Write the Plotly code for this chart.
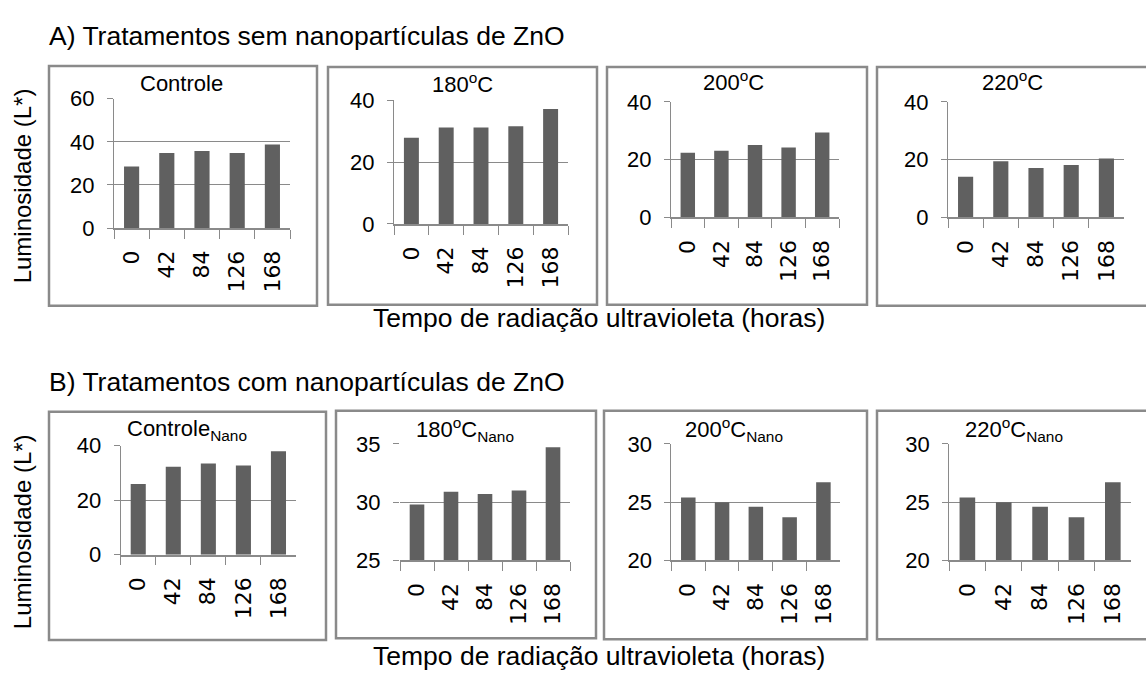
import plotly.graph_objects as go

W, H = 1146, 682

hours = ["0", "42", "84", "126", "168"]

a_controle = [28.6, 34.8, 35.7, 34.8, 38.8]
a_180 = [27.9, 31.2, 31.2, 31.6, 37.2]
a_200 = [22.4, 23.1, 25.1, 24.2, 29.4]
a_220 = [14.1, 19.5, 17.1, 18.2, 20.4]
b_controle = [25.9, 32.2, 33.4, 32.7, 37.9]
b_180 = [29.8, 30.9, 30.7, 31.0, 34.7]
b_200 = [25.4, 25.0, 24.6, 23.7, 26.7]
b_220 = [25.4, 25.0, 24.6, 23.7, 26.7]

panel_titles = ["Controle", "180<sup>o</sup>C", "200<sup>o</sup>C", "220<sup>o</sup>C",
                "Controle<sub>Nano</sub>", "180<sup>o</sup>C<sub>Nano</sub>",
                "200<sup>o</sup>C<sub>Nano</sub>", "220<sup>o</sup>C<sub>Nano</sub>"]
y_ranges = [[0, 60], [0, 40], [0, 40], [0, 40], [0, 40], [25, 35], [20, 30], [20, 30]]
y_dticks = [20, 20, 20, 20, 20, 5, 5, 5]
series = [a_controle, a_180, a_200, a_220, b_controle, b_180, b_200, b_220]

# layout geometry in pixels: plot area (x0, x1, ytop, ybottom)
plot_px = [
    (114, 290, 90, 224.3),
    (394, 568, 91.7, 220),
    (671, 839, 93.3, 213.3),
    (948, 1124, 93.3, 213.3),
    (120.7, 296, 450, 563.3),
    (400, 570, 448.3, 569.3),
    (671.4, 840.3, 448.3, 569.3),
    (949.2, 1131, 448.3, 569.3),
]
box_px = [
    (49, 317, 56, 305),
    (328, 597, 57, 304),
    (607, 867, 57, 304),
    (877, 1150, 57, 305),
    (49, 326, 415, 652),
    (336, 596, 414, 650),
    (604, 867, 414, 651),
    (877, 1150, 414, 651),
]
title_px = [(181, 74), (462, 74), (733, 72), (1012, 72),
            (187, 434), (465, 433), (734, 433), (1014, 433)]

BAR = "#606060"
GRID = "#8a8a8a"
FONT = "Liberation Sans"

fig = go.Figure()
layout = dict(
    width=W, height=H, margin=dict(l=0, r=0, t=0, b=0),
    paper_bgcolor="white", plot_bgcolor="white",
    showlegend=False, bargap=0.57,
    font=dict(family=FONT, color="black"),
)
shapes = []
annotations = []

for i, (vals, (x0, x1, yt, yb)) in enumerate(zip(series, plot_px)):
    n = i + 1
    xa = "x" if n == 1 else f"x{n}"
    ya = "y" if n == 1 else f"y{n}"
    fig.add_trace(go.Bar(x=hours, y=vals, xaxis=xa, yaxis=ya,
                         marker=dict(color=BAR, line=dict(width=0)),
                         hoverinfo="x+y"))
    layout[f"xaxis{'' if n == 1 else n}"] = dict(
        domain=[x0 / W, x1 / W], anchor=ya, type="category",
        showgrid=False, showline=True, linecolor=GRID, linewidth=1.5,
        ticks="outside", tickson="boundaries", ticklen=9, tickcolor=GRID, tickwidth=1,
        tickangle=-90, ticklabelstandoff=12,
        tickfont=dict(family="DejaVu Sans", size=22, color="black"),
        fixedrange=True, zeroline=False,
    )
    layout[f"yaxis{'' if n == 1 else n}"] = dict(
        domain=[1 - yb / H, 1 - yt / H], anchor=xa,
        range=y_ranges[i], dtick=y_dticks[i], tick0=y_ranges[i][0],
        showgrid=True, gridcolor=GRID, gridwidth=1.2,
        showline=(n != 6), linecolor=GRID, linewidth=1,
        ticks="outside", ticklen=6, tickcolor=GRID, tickwidth=1.2,
        ticklabelstandoff=8,
        tickfont=dict(family=FONT, size=22, color="black"),
        zeroline=False, fixedrange=True,
    )
    bx0, bx1, by0, by1 = box_px[i]
    shapes.append(dict(type="rect", xref="paper", yref="paper",
                       x0=bx0 / W, x1=bx1 / W, y0=1 - by1 / H, y1=1 - by0 / H,
                       line=dict(color=GRID, width=2.5), fillcolor="rgba(0,0,0,0)",
                       layer="below"))
    tx, ty = title_px[i]
    annotations.append(dict(text=panel_titles[i], xref="paper", yref="paper",
                            x=tx / W, y=1 - ty / H, xanchor="center", yanchor="middle",
                            showarrow=False, font=dict(family=FONT, size=22, color="black")))

for txt, yc in [("A) Tratamentos sem nanopartículas de ZnO", 25),
                ("B) Tratamentos com nanopartículas de ZnO", 384)]:
    annotations.append(dict(text=txt, xref="paper", yref="paper", x=47 / W, y=1 - yc / H,
                            xanchor="left", yanchor="middle", showarrow=False,
                            font=dict(family=FONT, size=26.5, color="black")))

for yc in [318, 668]:
    annotations.append(dict(text="Tempo de radiação ultravioleta (horas)", xref="paper",
                            yref="paper", x=599 / W, y=1 - yc / H, xanchor="center",
                            yanchor="middle", showarrow=False,
                            font=dict(family=FONT, size=26.5, color="black")))

for yc in [181, 540]:
    annotations.append(dict(text="Luminosidade (L*)", xref="paper", yref="paper",
                            x=22 / W, y=1 - yc / H, xanchor="center", yanchor="middle",
                            textangle=-90, showarrow=False,
                            font=dict(family=FONT, size=24, color="black")))

layout["shapes"] = shapes
layout["annotations"] = annotations
fig.update_layout(**layout)
fig.write_html("out.html", config={"displayModeBar": False})
